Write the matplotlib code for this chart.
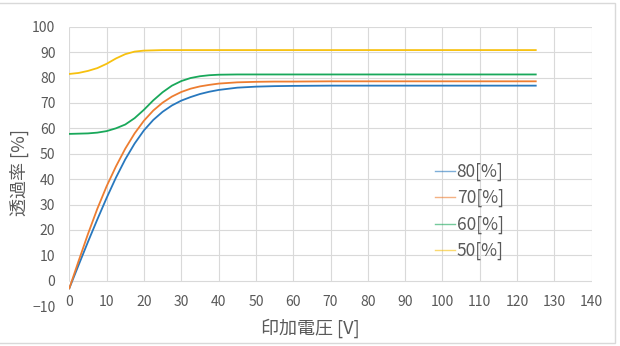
import matplotlib
matplotlib.use("Agg")
import matplotlib.pyplot as plt
from matplotlib.patches import Rectangle

plt.rcParams['font.family'] = ['Noto Sans CJK JP', 'DejaVu Sans']

# applied voltage [V]
voltage = [0, 2.5, 5, 7.5, 10, 12.5, 15, 17.5, 20, 22.5, 25, 27.5, 30, 32.5,
           35, 37.5, 40, 45, 50, 55, 60, 70, 80, 90, 100, 110, 120, 125]

# transmittance [%] for each series
t80 = [-3.0, 6.2, 15.3, 24.1, 32.6, 40.6, 47.8, 54.0, 59.2, 63.3, 66.5, 69.0, 70.9, 72.3,
       73.5, 74.4, 75.1, 76.0, 76.4, 76.6, 76.7, 76.8, 76.8, 76.8, 76.8, 76.8, 76.8, 76.8]
t70 = [-3.0, 7.8, 18.4, 28.3, 37.2, 45.0, 52.0, 58.0, 63.0, 67.0, 70.1, 72.5, 74.3, 75.6,
       76.5, 77.1, 77.6, 78.1, 78.3, 78.4, 78.4, 78.5, 78.5, 78.5, 78.5, 78.5, 78.5, 78.5]
t60 = [57.8, 57.9, 58.0, 58.3, 58.9, 60.0, 61.5, 64.0, 67.3, 71.0, 74.2, 76.8, 78.6, 79.8,
       80.5, 80.9, 81.1, 81.2, 81.2, 81.2, 81.2, 81.2, 81.2, 81.2, 81.2, 81.2, 81.2, 81.2]
t50 = [81.4, 81.8, 82.6, 83.7, 85.4, 87.5, 89.2, 90.2, 90.6, 90.7, 90.8, 90.8, 90.8, 90.8,
       90.8, 90.8, 90.8, 90.8, 90.8, 90.8, 90.8, 90.8, 90.8, 90.8, 90.8, 90.8, 90.8, 90.8]

series = [('80[%]', t80, '#2878BE'),
          ('70[%]', t70, '#ED7D31'),
          ('60[%]', t60, '#19A85A'),
          ('50[%]', t50, '#F7C10F')]

xticks = list(range(0, 141, 10))
yticks = list(range(-10, 101, 10))

text_col = '#595959'
grid_col = '#d9d9d9'

fig = plt.figure(figsize=(6.2, 3.46), dpi=100)
ax = fig.add_axes([0.1118, 0.1153, 0.8426, 0.8075])

# chart border
fig.patches.append(Rectangle((-0.01, 1 - 343 / 346), 615 / 620 + 0.01, 340 / 346,
                             transform=fig.transFigure, fill=False,
                             edgecolor=grid_col, linewidth=1.0))

# grid only over 0..100
ax.hlines([y for y in yticks if y >= 0], 0, 140, colors=grid_col, linewidth=0.8, zorder=0)
ax.vlines(xticks, 0, 100, colors=grid_col, linewidth=0.8, zorder=0)

for label, vals, col in series:
    ax.plot(voltage, vals, color=col, linewidth=1.3, label=label, zorder=3)

ax.set_xlim(0, 140)
ax.set_ylim(-10, 100)
for s in ['top', 'right', 'left']:
    ax.spines[s].set_visible(False)
ax.spines['bottom'].set_position(('data', 0))
ax.spines['bottom'].set_visible(False)

ax.set_xticks(xticks)
ax.set_yticks(yticks)
ax.tick_params(axis='both', length=0, labelsize=10, labelcolor=text_col)
ax.tick_params(axis='x', pad=10)
ax.tick_params(axis='y', pad=10)

fig.text(310 / 620, 1 - 328 / 346, '印加電圧 [V]', ha='center', va='center',
         fontsize=13, color=text_col)
fig.text(19 / 620, 1 - 173 / 346, '透過率 [%]', ha='center', va='center',
         rotation=90, fontsize=13, color=text_col)

leg = ax.legend(loc='center left', bbox_to_anchor=(435 / 620, 1 - 211.5 / 346),
                bbox_transform=fig.transFigure, frameon=False, fontsize=12.5,
                handlelength=1.15, handletextpad=0.1, labelspacing=0.47,
                borderpad=0, borderaxespad=0)
for t in leg.get_texts():
    t.set_color(text_col)
for h in leg.get_lines():
    h.set_linewidth(1.0)
    h.set_alpha(0.6)

fig.savefig('out.png', dpi=100)
